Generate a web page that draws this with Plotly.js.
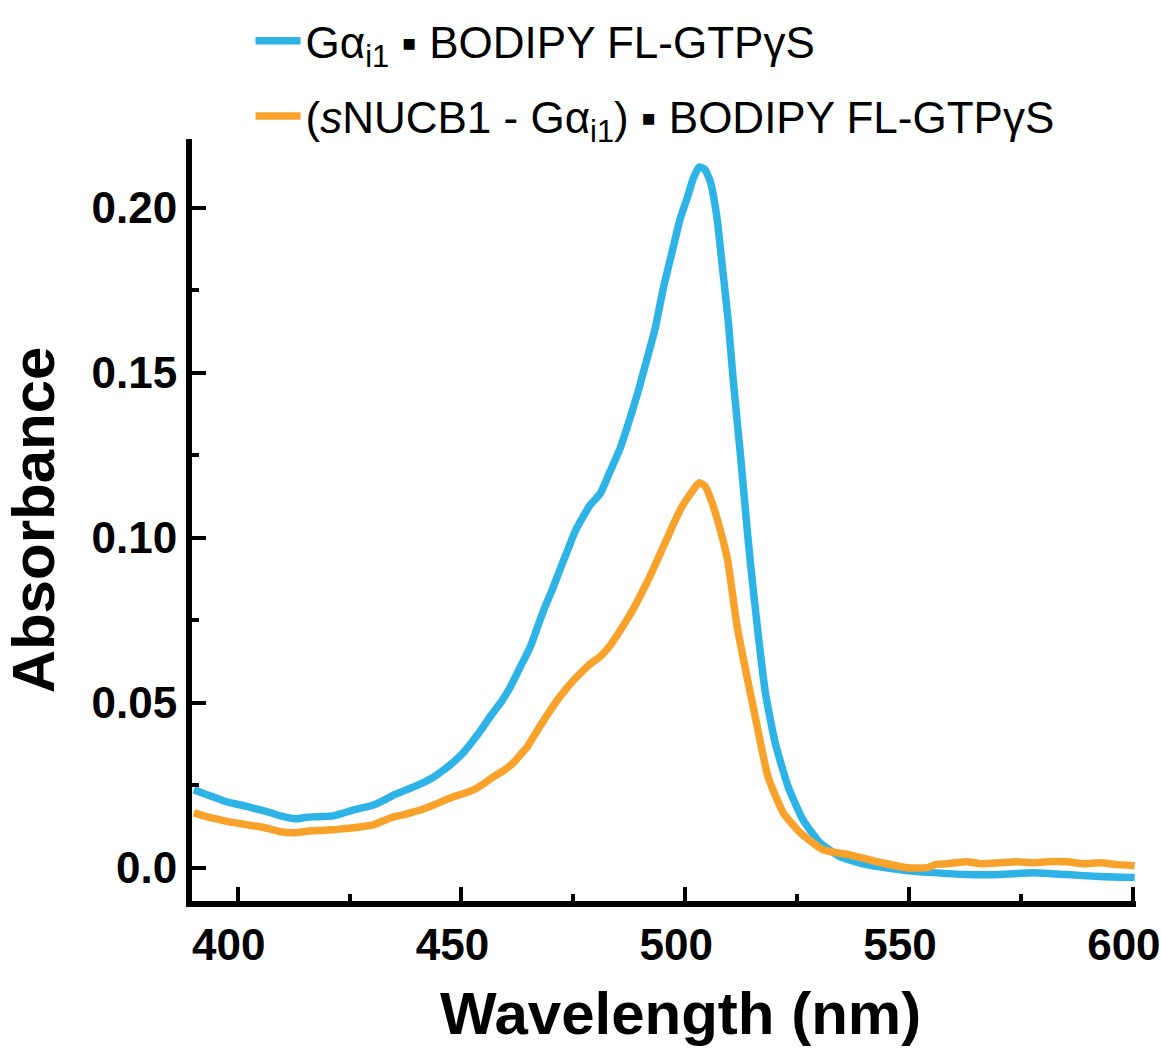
<!DOCTYPE html>
<html>
<head>
<meta charset="utf-8">
<script src="https://cdn.plot.ly/plotly-3.0.1.min.js"></script>
<style>html,body{margin:0;padding:0;background:#fff;}#chart{width:1161px;height:1049px;}</style>
</head>
<body>
<div id="chart"></div>
<script>
// Wavelength (nm) and absorbance, Gαi1 · BODIPY FL-GTPγS
const wlBlue = [390.2,393,396.2,398,400.7,403,405.1,407.5,409.6,412.9,415,417,419,421.4,423.5,425.9,428,430.4,432.5,434.8,437,439.3,441.5,443.8,446,448.2,450.5,452.7,454.5,456.5,459,461,463,465.4,467,468.8,470.5,472.1,473.8,475.4,477,478.8,481.0,483.3,485.5,487.7,489.5,491.5,493.3,495.1,497.1,498.9,500.4,501.8,503.1,504.3,505.6,507.1,508.3,509.6,510.7,512.3,513.8,514.5,516.1,517.9,520.1,523.0,526.3,530.1,534.6,540.6,548,555.4,562.9,570.3,577.7,585.3,592.6,600.4];
const absBlue = [0.0236,0.0222,0.0206,0.0198,0.0190,0.0182,0.0175,0.0166,0.0157,0.0148,0.0152,0.0154,0.0155,0.0157,0.0165,0.0175,0.0182,0.0190,0.0203,0.0220,0.0232,0.0245,0.0258,0.0275,0.0296,0.0320,0.0350,0.0387,0.0420,0.0460,0.0505,0.0550,0.0605,0.0670,0.0730,0.0795,0.0850,0.0907,0.0965,0.1020,0.1060,0.1100,0.1134,0.1204,0.1273,0.1364,0.1445,0.1545,0.1636,0.1757,0.1869,0.1969,0.2029,0.2090,0.2124,0.2118,0.2080,0.1969,0.1820,0.1658,0.1480,0.1255,0.1030,0.0931,0.0730,0.0530,0.0378,0.0245,0.0145,0.0076,0.0033,0.0009,-0.0006,-0.0015,-0.0021,-0.0021,-0.0015,-0.0021,-0.0027,-0.0030];

// Wavelength (nm) and absorbance, (sNUCB1 - Gαi1) · BODIPY FL-GTPγS
const wlOrange = [390.2,393,396.2,398.5,400.7,403,405.1,407.5,409.6,412.9,415,417,419,421.4,423.5,425.9,428,430.4,432.5,434.8,437,439.3,441.5,443.8,446,448.2,450.5,452.7,455,457.1,459.5,461.6,463,464.7,466,467.6,470,472.1,474.5,476.6,479,481,483.3,485.5,487.8,490,492,494,496,497.3,499.3,501.5,503.1,504.5,505.9,508.1,509.5,511.6,513.8,516.1,518.5,521.9,525.7,530.8,536.8,542.9,549.6,554,556,558.5,563,566,570.3,574,577.7,581,585.3,589,592.6,596,600.4];
const absOrange = [0.0166,0.0155,0.0145,0.0138,0.0133,0.0128,0.0124,0.0116,0.0109,0.0106,0.0110,0.0112,0.0113,0.0115,0.0118,0.0121,0.0125,0.0130,0.0142,0.0154,0.0160,0.0169,0.0178,0.0190,0.0203,0.0215,0.0225,0.0236,0.0255,0.0275,0.0295,0.0318,0.0340,0.0366,0.0395,0.0430,0.0480,0.0520,0.0560,0.0590,0.0620,0.0640,0.0675,0.0720,0.0770,0.0826,0.0880,0.0940,0.1000,0.1040,0.1095,0.1140,0.1167,0.1155,0.1110,0.1010,0.0930,0.0730,0.0578,0.0426,0.0275,0.0166,0.0106,0.0054,0.0039,0.0018,0.0000,0.0000,0.0010,0.0012,0.0018,0.0012,0.0015,0.0018,0.0015,0.0018,0.0018,0.0012,0.0015,0.0010,0.0006];

const seriesNames = [
  'Gα<sub>i1</sub> ▪ BODIPY FL-GTPγS',
  '(<i>s</i>NUCB1 - Gα<sub>i1</sub>) ▪ BODIPY FL-GTPγS'
];
const xTickVals = [400, 450, 500, 550, 600];
const yTickVals = [0, 0.05, 0.10, 0.15, 0.20];
const yTickText = ['0.0', '0.05', '0.10', '0.15', '0.20'];
const xTitle = 'Wavelength (nm)';
const yTitle = 'Absorbance';

const FONT = '"Liberation Sans", Arial, Helvetica, sans-serif';

const traces = [
  {x: wlBlue, y: absBlue, name: seriesNames[0], mode: 'lines',
   line: {color: '#2DB3E6', width: 7.5, shape: 'spline', smoothing: 0.5}, legendgroup: 'a'},
  {x: wlOrange, y: absOrange, name: seriesNames[1], mode: 'lines',
   line: {color: '#F8A22C', width: 7.5, shape: 'spline', smoothing: 0.5}, legendgroup: 'b'}
];

const axisCommon = {
  showline: true, linecolor: '#000', linewidth: 6,
  showgrid: false, zeroline: false,
  ticks: 'inside', ticklen: 14, tickwidth: 4, tickcolor: '#000',
  tickfont: {family: FONT, size: 44, color: '#000', weight: 'bold'},
  automargin: false
};

const layout = {
  width: 1161, height: 1049,
  paper_bgcolor: '#fff', plot_bgcolor: '#fff',
  margin: {l: 192, r: 25, t: 139, b: 148, autoexpand: false},
  showlegend: true,
  legend: {
    x: 0.062, y: 1.175, xanchor: 'left', yanchor: 'top',
    font: {family: FONT, size: 44, color: '#000'},
    bgcolor: 'rgba(0,0,0,0)', tracegroupgap: 15, itemwidth: 45
  },
  xaxis: Object.assign({}, axisCommon, {
    range: [389.8, 600.7],
    tickmode: 'array', tickvals: xTickVals,
    ticklabelshift: -9, ticklabeloverflow: 'allow',
    minor: {dtick: 25, tick0: 400, ticks: 'inside', ticklen: 7, tickwidth: 4, tickcolor: '#000', showgrid: false},
    title: {text: ''}
  }),
  yaxis: Object.assign({}, axisCommon, {
    range: [-0.0101, 0.2209],
    tickmode: 'array', tickvals: yTickVals, ticktext: yTickText,
    minor: {dtick: 0.025, tick0: 0, ticks: 'inside', ticklen: 7, tickwidth: 4, tickcolor: '#000', showgrid: false},
    title: {text: yTitle, font: {family: FONT, size: 60, color: '#000', weight: 'bold'}, standoff: 30}
  }),
  annotations: [{
    text: xTitle, xref: 'paper', yref: 'paper', x: 0.517, y: -0.101,
    xanchor: 'center', yanchor: 'top', showarrow: false,
    font: {family: FONT, size: 60, color: '#000', weight: 'bold'}
  }]
};

Plotly.newPlot('chart', traces, layout, {displayModeBar: false, staticPlot: true});
</script>
</body>
</html>
